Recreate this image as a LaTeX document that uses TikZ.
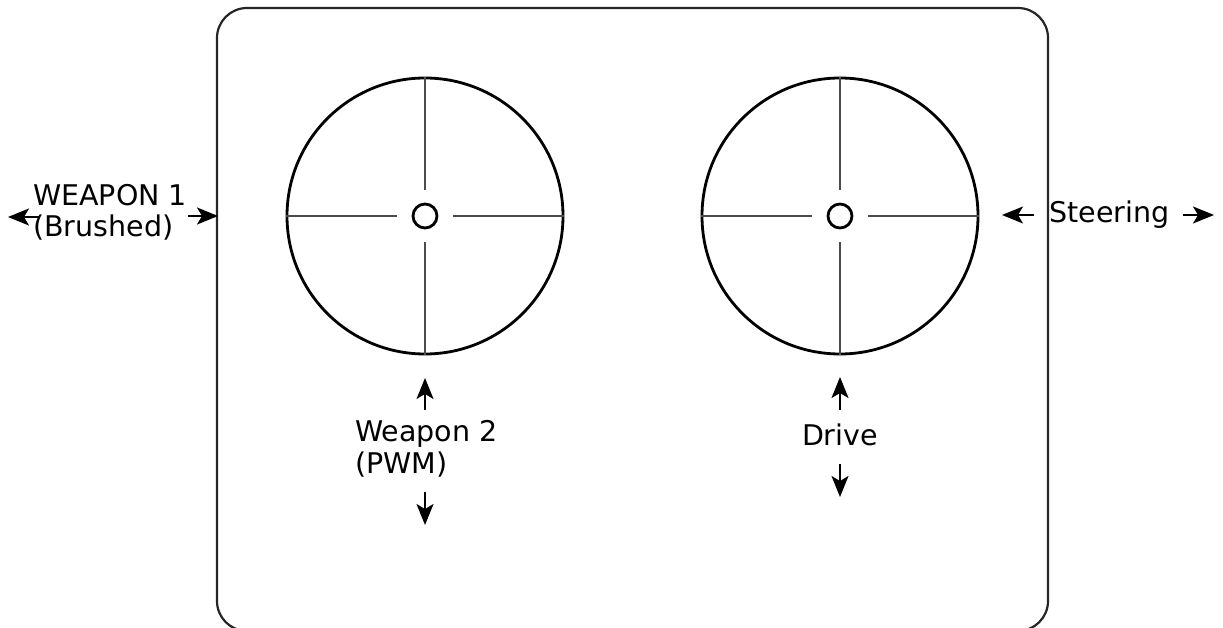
\documentclass[tikz,border=0pt]{standalone}
\usepackage{fontspec}
\setmainfont{DejaVu Sans}
\usetikzlibrary{arrows.meta}
\begin{document}
\begin{tikzpicture}[x=1pt,y=-1pt,
  frame/.style={draw=black!85,line width=2.2pt,rounded corners=30pt},
  wheel/.style={circle,draw=black,line width=2.8pt,minimum size=276pt,inner sep=0pt},
  hub/.style={circle,draw=black,line width=2.8pt,minimum size=24pt,inner sep=0pt},
  spoke/.style={draw=black!70,line width=1.5pt},
  arr/.style={draw=black,line width=1.8pt,-{Stealth[length=21pt,width=17pt,inset=5pt]}},
  lbl/.style={font=\fontsize{28.5}{32}\selectfont,inner sep=0pt,align=left,text=black}
]
\useasboundingbox (0,0) rectangle (1223,628);
\draw[frame] (217,8) rectangle (1048,631);

% left wheel
\node[wheel] (w1) at (425,216) {};
\node[hub] (h1) at (425,216) {};
\draw[spoke] (w1.west) -- ([xshift=-15pt]h1.west);
\draw[spoke] (w1.east) -- ([xshift=15pt]h1.east);
\draw[spoke] (w1.north) -- ([yshift=13pt]h1.north);
\draw[spoke] (w1.south) -- ([yshift=-13pt]h1.south);

% right wheel
\node[wheel] (w2) at (840,216) {};
\node[hub] (h2) at (840,216) {};
\draw[spoke] (w2.west) -- ([xshift=-15pt]h2.west);
\draw[spoke] (w2.east) -- ([xshift=15pt]h2.east);
\draw[spoke] (w2.north) -- ([yshift=13pt]h2.north);
\draw[spoke] (w2.south) -- ([yshift=-13pt]h2.south);

% labels (base anchor = baseline of last line)
\node[lbl,anchor=base west] (t1) at (33,237) {WEAPON 1\\(Brushed)};
\node[lbl,anchor=base west] (t2) at (1049,223) {Steering};
\node[lbl,anchor=base west] (t3) at (355,473) {Weapon 2\\(PWM)};
\node[lbl,anchor=base] (t4) at (840,445) {Drive};

% arrow coordinates
\coordinate (a1s) at (40,217);  \coordinate (a1e) at (8,217);
\coordinate (a2s) at (188,216); \coordinate (a2e) at (218,216);
\coordinate (a3s) at (1034,215); \coordinate (a3e) at (1002,215);
\coordinate (a4s) at (1183,215); \coordinate (a4e) at (1214,215);
\coordinate (a5s) at (425,410); \coordinate (a5e) at (425,378);
\coordinate (a6s) at (425,492); \coordinate (a6e) at (425,525);
\coordinate (a7s) at (840,410); \coordinate (a7e) at (840,377);
\coordinate (a8s) at (840,464); \coordinate (a8e) at (840,497);
\draw[arr] (a1s) -- (a1e);
\draw[arr] (a2s) -- (a2e);
\draw[arr] (a3s) -- (a3e);
\draw[arr] (a4s) -- (a4e);
\draw[arr] (a5s) -- (a5e);
\draw[arr] (a6s) -- (a6e);
\draw[arr] (a7s) -- (a7e);
\draw[arr] (a8s) -- (a8e);
\end{tikzpicture}
\end{document}
